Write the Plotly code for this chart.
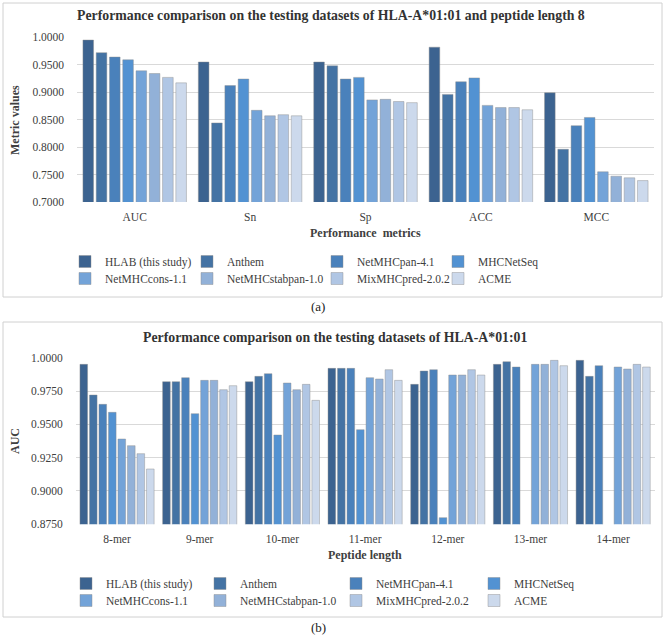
import plotly.graph_objects as go

# ---------------- data ----------------
methods = ["HLAB (this study)", "Anthem", "NetMHCpan-4.1", "MHCNetSeq",
           "NetMHCcons-1.1", "NetMHCstabpan-1.0", "MixMHCpred-2.0.2", "ACME"]

metrics = ["AUC", "Sn", "Sp", "ACC", "MCC"]
hlab_a = [0.995, 0.955, 0.955, 0.982, 0.899]
anthem_a = [0.972, 0.844, 0.948, 0.896, 0.796]
netmhcpan_a = [0.964, 0.912, 0.924, 0.919, 0.839]
mhcnetseq_a = [0.959, 0.924, 0.927, 0.926, 0.854]
netmhccons_a = [0.939, 0.867, 0.886, 0.876, 0.755]
netmhcstabpan_a = [0.934, 0.857, 0.887, 0.872, 0.747]
mixmhcpred_a = [0.927, 0.859, 0.883, 0.872, 0.744]
acme_a = [0.917, 0.857, 0.881, 0.868, 0.739]

lengths = ["8-mer", "9-mer", "10-mer", "11-mer", "12-mer", "13-mer", "14-mer"]
hlab_b = [0.995, 0.982, 0.982, 0.992, 0.980, 0.995, 0.998]
anthem_b = [0.972, 0.982, 0.986, 0.992, 0.990, 0.997, 0.986]
netmhcpan_b = [0.965, 0.985, 0.988, 0.992, 0.991, 0.993, 0.994]
mhcnetseq_b = [0.959, 0.958, 0.942, 0.946, 0.880, None, None]
netmhccons_b = [0.939, 0.983, 0.981, 0.985, 0.987, 0.995, 0.993]
netmhcstabpan_b = [0.934, 0.983, 0.976, 0.984, 0.987, 0.995, 0.9915]
mixmhcpred_b = [0.928, 0.976, 0.980, 0.991, 0.991, 0.998, 0.995]
acme_b = [0.9165, 0.979, 0.968, 0.983, 0.987, 0.994, 0.993]

series_a = [hlab_a, anthem_a, netmhcpan_a, mhcnetseq_a,
            netmhccons_a, netmhcstabpan_a, mixmhcpred_a, acme_a]
series_b = [hlab_b, anthem_b, netmhcpan_b, mhcnetseq_b,
            netmhccons_b, netmhcstabpan_b, mixmhcpred_b, acme_b]

# ---------------- style ----------------
colors = ["#3C6390", "#4473A4", "#4A81BB", "#5292D2",
          "#73A3D8", "#92B1D8", "#B0C6E4", "#CCD9EC"]
FONT = "Liberation Serif, Times New Roman, serif"
W, H = 666, 636
ML, MR = 60, 10
GW = W - ML - MR


def px_x(x):
    return (x - ML) / GW


def px_y(y):
    return 1 - y / H


# each legend row is its own legend: (top panel row1,row2), (bottom panel row1,row2)
leg_top = ["legend", "legend", "legend", "legend",
           "legend3", "legend3", "legend3", "legend3"]
leg_bot = ["legend2", "legend2", "legend2", "legend2",
           "legend4", "legend4", "legend4", "legend4"]
# legend column widths (px) per column, repeated for both rows
colw_top = [77, 85, 76, 80] * 2
colw_bot = [89, 91, 93, 80] * 2

fig = go.Figure()
for name, vals, c, lg, lw in zip(methods, series_a, colors, leg_top, colw_top):
    fig.add_trace(go.Bar(x=metrics, y=vals, name=name, marker_color=c,
                         marker_line=dict(color="rgba(140,140,140,0.55)", width=0.8),
                         xaxis="x", yaxis="y", legend=lg, legendwidth=lw))
for name, vals, c, lg, lw in zip(methods, series_b, colors, leg_bot, colw_bot):
    fig.add_trace(go.Bar(x=lengths, y=vals, name=name, marker_color=c,
                         marker_line=dict(color="rgba(140,140,140,0.55)", width=0.8),
                         xaxis="x2", yaxis="y2", legend=lg, legendwidth=lw))

tickfont = dict(family=FONT, size=11.5, color="#404040")
grid = "#D9D9D9"
legfont = dict(family=FONT, size=11.5, color="#404040")


def leg(left_px, top_px):
    return dict(orientation="h", x=px_x(left_px), xanchor="left",
                y=px_y(top_px), yanchor="top", traceorder="normal",
                entrywidthmode="pixels",
                font=legfont, itemclick=False, itemdoubleclick=False,
                bgcolor="rgba(0,0,0,0)", tracegroupgap=0)


fig.update_layout(
    width=W, height=H,
    margin=dict(l=ML, r=MR, t=0, b=0, autoexpand=False),
    paper_bgcolor="white", plot_bgcolor="white",
    barmode="group", bargap=0.08, bargroupgap=0.2,
    hovermode=False,
    font=dict(family=FONT, size=12, color="#404040"),
    showlegend=True,
    xaxis=dict(domain=[px_x(77), px_x(654)], anchor="y", tickfont=tickfont,
               showgrid=False, showline=False, ticks="", ticklabelstandoff=6,
               automargin=False, fixedrange=True),
    yaxis=dict(domain=[px_y(202), px_y(37.3)], anchor="x", range=[0.7, 1.0],
               dtick=0.05, tickformat=".4f", tickfont=tickfont,
               gridcolor=grid, gridwidth=1, zeroline=False, showline=False,
               ticks="", ticklabelstandoff=12, automargin=False, fixedrange=True),
    xaxis2=dict(domain=[px_x(75.7), px_x(654.5)], anchor="y2", tickfont=tickfont,
                showgrid=False, showline=False, ticks="", ticklabelstandoff=6,
                automargin=False, fixedrange=True),
    yaxis2=dict(domain=[px_y(524.3), px_y(357.7)], anchor="x2", range=[0.875, 1.0],
                dtick=0.025, tickformat=".4f", tickfont=tickfont,
                gridcolor=grid, gridwidth=1, zeroline=False, showline=False,
                ticks="", ticklabelstandoff=12, automargin=False, fixedrange=True),
    legend=leg(65, 247),
    legend3=leg(65, 264),
    legend2=leg(66, 569),
    legend4=leg(66, 586),
)

# panel borders
for y0, y1 in [(3, 297), (322, 617)]:
    fig.add_shape(type="rect", xref="paper", yref="paper",
                  x0=px_x(3), x1=px_x(662), y0=px_y(y1), y1=px_y(y0),
                  line=dict(color="#D0D0D0", width=1), fillcolor="rgba(0,0,0,0)",
                  layer="below")

ann = []
title_font = dict(family=FONT, size=13.8, color="#333333")
axt_font = dict(family=FONT, size=12, color="#404040")
ann.append(dict(text="<b>Performance comparison on the testing datasets of HLA-A*01:01 and peptide length 8</b>",
                x=px_x(331), y=px_y(16), font=title_font))
ann.append(dict(text="<b>Performance comparison on the testing datasets of HLA-A*01:01</b>",
                x=px_x(335), y=px_y(337), font=title_font))
ann.append(dict(text="<b>Performance  metrics</b>", x=px_x(365), y=px_y(233), font=axt_font))
ann.append(dict(text="<b>Peptide length</b>", x=px_x(365), y=px_y(555), font=axt_font))
ann.append(dict(text="<b>Metric values</b>", x=px_x(15), y=px_y(120), textangle=-90,
                font=axt_font))
ann.append(dict(text="<b>AUC</b>", x=px_x(15), y=px_y(441), textangle=-90, font=axt_font))
ann.append(dict(text="(a)", x=px_x(318), y=px_y(307),
                font=dict(family=FONT, size=13, color="#222222")))
ann.append(dict(text="(b)", x=px_x(318), y=px_y(627),
                font=dict(family=FONT, size=13, color="#222222")))
for a in ann:
    a.update(xref="paper", yref="paper", showarrow=False,
             xanchor="center", yanchor="middle")
fig.update_layout(annotations=ann)

fig.write_html("out.html", config={"displayModeBar": False},
               post_script="document.body.style.margin='0';")
